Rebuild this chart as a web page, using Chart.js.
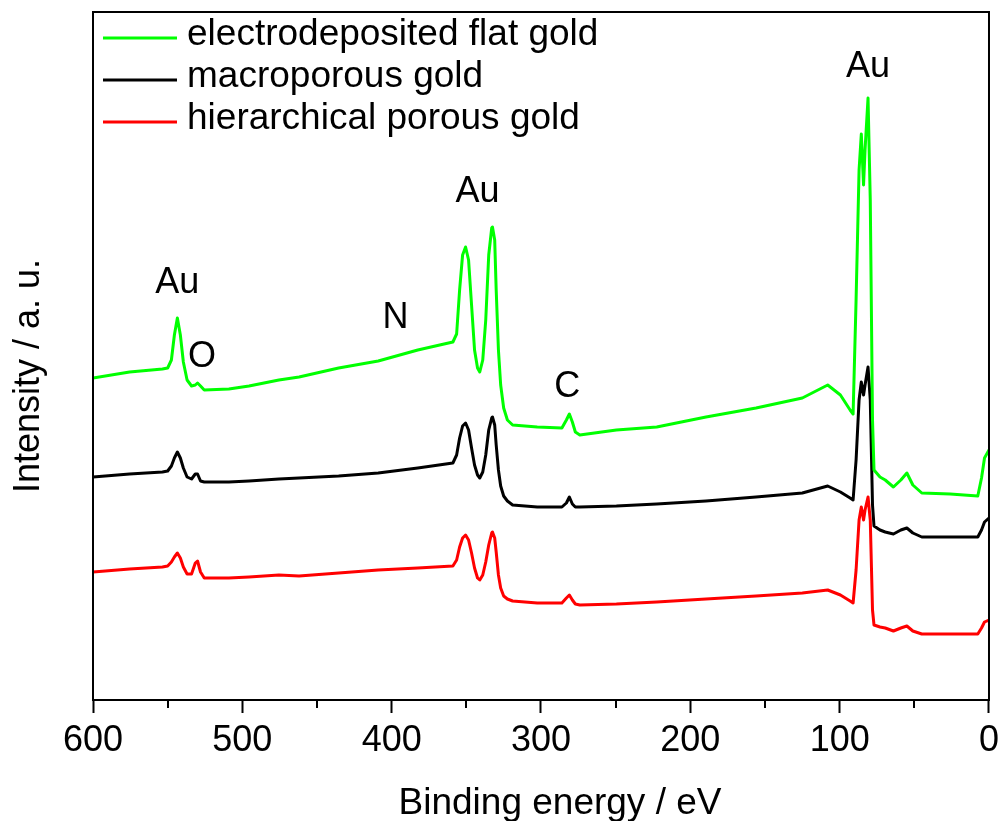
<!DOCTYPE html>
<html lang="en">
<head>
    <meta charset="UTF-8">
    <title>XPS survey spectra</title>
    <script src="https://cdn.jsdelivr.net/npm/chart.js"></script>
    <style>
        html, body { margin: 0; padding: 0; background: #fff; }
        canvas { display: block; }
    </style>
</head>
<body>
    <canvas id="xpsChart" width="1005" height="821"></canvas>

    <script>
        // Binding energy grid (eV), shared by all three spectra
        const energy = [600, 575.5, 553.5, 550, 547.5, 545.5, 543.5, 541.5, 539.5, 537, 534, 531.5, 530, 528, 525.5,
            509, 495.5, 475.5, 462, 435.5, 409, 382.5, 359, 356.5, 354.5, 352.5, 350.5, 348.5, 346.5, 344.5,
            342.5, 341, 339, 337, 335, 333, 332.5, 331, 330, 328.5, 327, 325, 322.5, 319, 302.5, 286, 283,
            281, 279, 277, 274, 249.5, 222.5, 189.5, 156, 125, 108, 99.5, 93, 91, 89, 87, 85.5, 84, 83, 81,
            79.5, 78, 77, 73, 69.5, 64, 59, 55, 51, 45, 26, 7.5, 5, 3, 0];

        // Intensities (a. u., curves offset vertically as in the figure)
        const flatGold = [322, 328, 331, 332, 340, 365, 382, 365, 338, 320, 314, 315, 317, 314, 310,
            311, 314, 320, 323, 332, 339, 350, 358, 366, 410, 445, 453, 440, 395, 350,
            332, 328, 340, 380, 445, 472, 473, 460, 410, 350, 315, 292, 280, 275, 273, 272, 280,
            286, 278, 268, 265, 270, 273, 283, 292, 302, 315, 305, 290, 286, 400, 530, 566, 515, 550, 602,
            500, 280, 230, 223, 220, 213, 220, 227, 215, 207, 206, 204, 222, 242, 250];

        const macroGold = [223, 226, 228, 229, 234, 242, 248, 242, 232, 223, 221, 226, 226, 219, 218,
            218, 219, 221, 222, 224, 227, 232, 237, 245, 262, 274, 277, 270, 252, 235,
            225, 222, 228, 245, 270, 282, 283, 275, 255, 230, 214, 204, 199, 195, 193, 193, 197,
            203, 196, 193, 193, 194, 196, 199, 203, 207, 214, 208, 202, 200, 240, 300, 318, 305, 315, 333,
            300, 195, 174, 170, 168, 166, 170, 172, 167, 163, 163, 163, 170, 178, 182];

        const hierGold = [128, 131, 133, 134, 138, 143, 147, 142, 133, 126, 126, 137, 139, 128, 122,
            122, 123, 125, 124, 127, 130, 132, 134, 140, 153, 162, 165, 160, 147, 132,
            122, 120, 125, 138, 155, 167, 168, 162, 148, 125, 112, 104, 101, 99, 97, 97, 102,
            105, 100, 96, 95, 96, 98, 101, 104, 107, 110, 105, 99, 97, 130, 180, 193, 180, 190, 203,
            180, 90, 75, 73, 72, 69, 72, 74, 69, 66, 66, 66, 72, 78, 80];

        const seriesNames = ['electrodeposited flat gold', 'macroporous gold', 'hierarchical porous gold'];
        const seriesColors = ['#00ff00', '#000000', '#ff0000'];

        const xTicks = [600, 500, 400, 300, 200, 100, 0];
        const xMinorTicks = [550, 450, 350, 250, 150, 50];

        // Peak labels: text, binding energy, intensity
        const peakText = ['Au', 'O', 'N', 'Au', 'C', 'Au'];
        const peakEnergy = [543.5, 527, 397.5, 342.5, 282.5, 81];
        const peakLevel = [417, 343, 382, 508, 313, 633];

        const FONT = '"Liberation Sans", Arial, sans-serif';

        function toPoints(ys) {
            return energy.map((e, i) => ({ x: e, y: ys[i] }));
        }

        const decorations = {
            id: 'decorations',
            afterDraw(chart) {
                const { ctx, chartArea: a, scales: { x, y } } = chart;
                ctx.save();

                // frame on top and right
                ctx.strokeStyle = '#000';
                ctx.lineWidth = 2;
                ctx.strokeRect(a.left, a.top, a.right - a.left, a.bottom - a.top);

                // minor ticks
                ctx.beginPath();
                xMinorTicks.forEach(v => {
                    const px = Math.round(x.getPixelForValue(v));
                    ctx.moveTo(px, a.bottom);
                    ctx.lineTo(px, a.bottom + 8);
                });
                ctx.stroke();

                // peak labels
                ctx.fillStyle = '#000';
                ctx.font = '36px ' + FONT;
                ctx.textAlign = 'center';
                ctx.textBaseline = 'middle';
                peakText.forEach((t, i) => {
                    ctx.fillText(t, x.getPixelForValue(peakEnergy[i]), y.getPixelForValue(peakLevel[i]));
                });

                // legend
                ctx.font = '37px ' + FONT;
                ctx.textAlign = 'left';
                seriesNames.forEach((name, i) => {
                    const ly = a.top + 26 + i * 42;
                    ctx.strokeStyle = seriesColors[i];
                    ctx.lineWidth = 3;
                    ctx.beginPath();
                    ctx.moveTo(a.left + 10, ly);
                    ctx.lineTo(a.left + 84, ly);
                    ctx.stroke();
                    ctx.fillText(name, a.left + 94, ly - 3);
                });

                // axis titles
                ctx.textAlign = 'center';
                ctx.fillText('Binding energy / eV', 560, 804);
                ctx.translate(29, 376);
                ctx.rotate(-Math.PI / 2);
                ctx.font = '36px ' + FONT;
                ctx.fillText('Intensity / a. u.', 0, 0);

                ctx.restore();
            }
        };

        new Chart(document.getElementById('xpsChart'), {
            type: 'line',
            data: {
                datasets: [
                    { label: seriesNames[0], data: toPoints(flatGold), borderColor: seriesColors[0] },
                    { label: seriesNames[1], data: toPoints(macroGold), borderColor: seriesColors[1] },
                    { label: seriesNames[2], data: toPoints(hierGold), borderColor: seriesColors[2] }
                ]
            },
            options: {
                responsive: false,
                animation: false,
                devicePixelRatio: 1,
                layout: { padding: { top: 12, right: 11, left: 0, bottom: 0 } },
                elements: {
                    line: { borderWidth: 3, tension: 0, fill: false, borderJoinStyle: 'round', borderCapStyle: 'round' },
                    point: { radius: 0 }
                },
                plugins: {
                    legend: { display: false },
                    tooltip: { enabled: false }
                },
                scales: {
                    x: {
                        type: 'linear',
                        reverse: true,
                        min: 0,
                        max: 600,
                        afterBuildTicks: scale => { scale.ticks = xTicks.map(v => ({ value: v })); },
                        afterFit: scale => { scale.height = 121; },
                        ticks: {
                            color: '#000',
                            padding: 6,
                            maxRotation: 0,
                            font: { family: FONT, size: 36 }
                        },
                        grid: {
                            drawOnChartArea: false,
                            drawTicks: true,
                            tickLength: 13,
                            tickColor: '#000',
                            tickWidth: 2
                        },
                        border: { display: true, color: '#000', width: 2 }
                    },
                    y: {
                        type: 'linear',
                        min: 0,
                        max: 688,
                        afterFit: scale => { scale.width = 93; },
                        ticks: { display: false },
                        grid: { display: false },
                        border: { display: true, color: '#000', width: 2 }
                    }
                }
            },
            plugins: [decorations]
        });
    </script>
</body>
</html>
